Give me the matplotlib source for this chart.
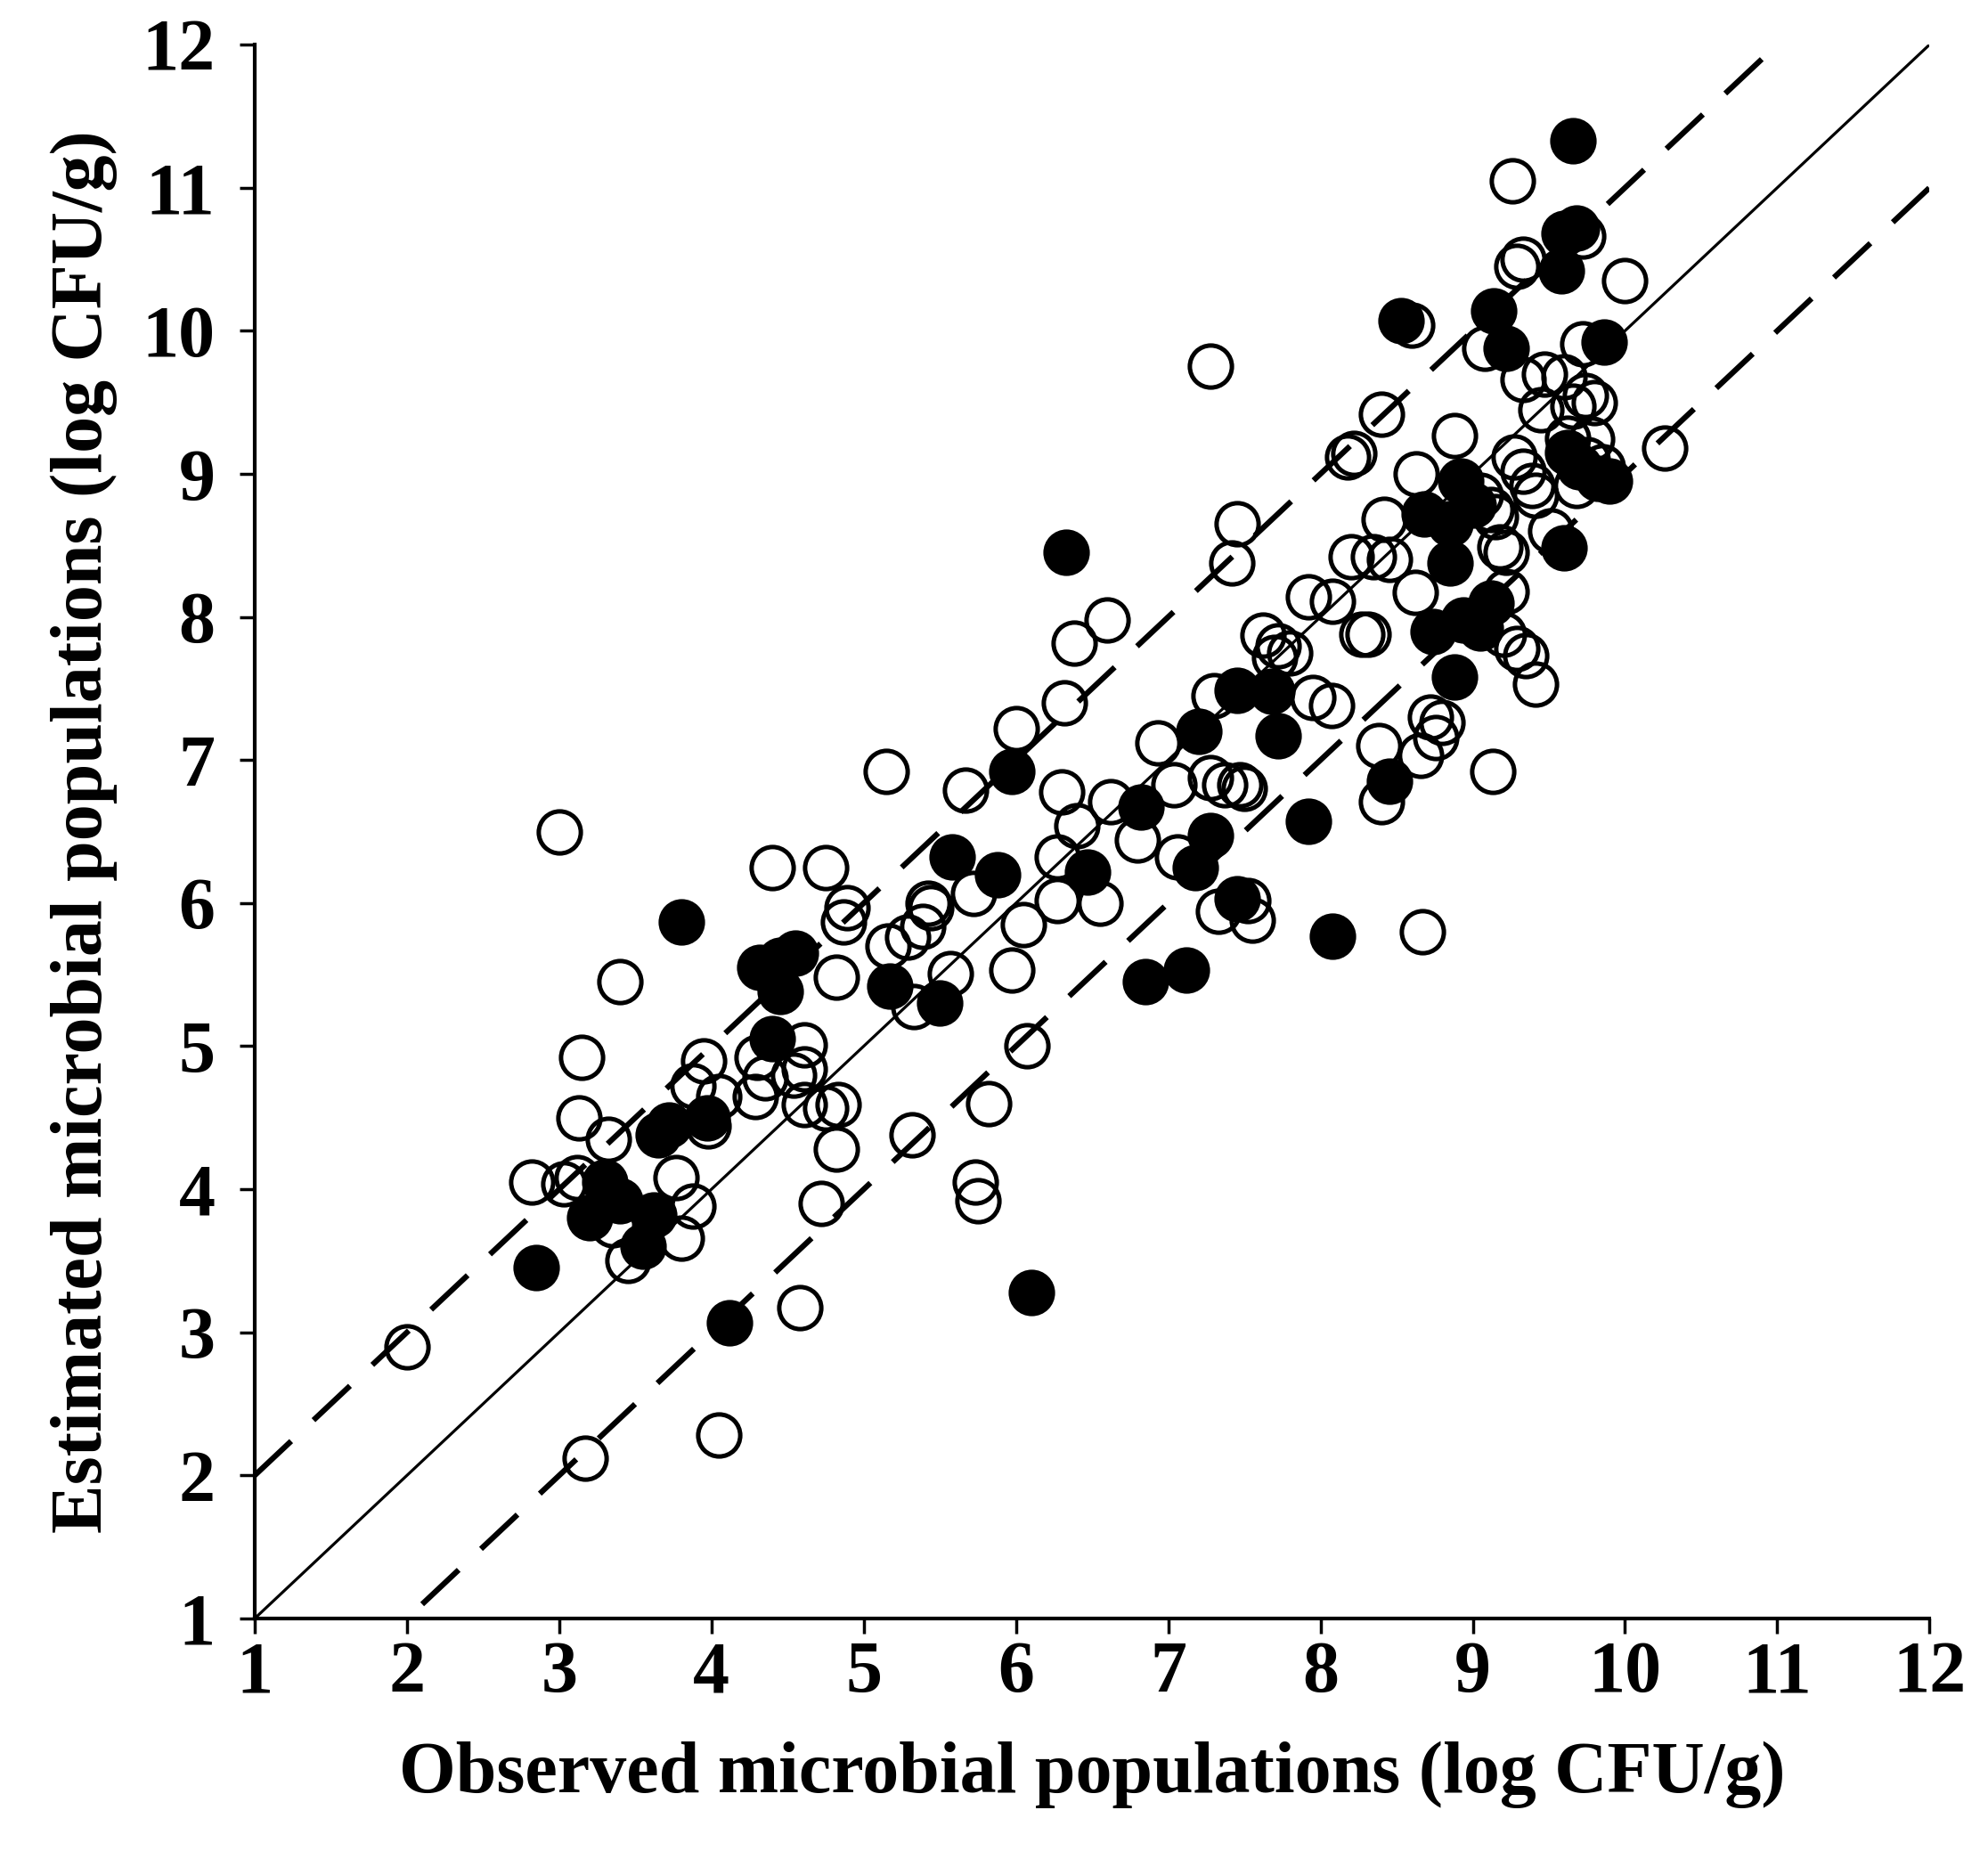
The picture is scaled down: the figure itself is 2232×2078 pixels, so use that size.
import numpy as np
import matplotlib
matplotlib.use("Agg")
import matplotlib.pyplot as plt

plt.rcParams['font.family'] = ['Liberation Serif', 'DejaVu Serif']
plt.rcParams['font.weight'] = 'bold'

# --- observed / estimated, open circles ---
open_obs = [2.00, 2.82, 3.03, 3.00, 3.17, 3.15, 3.13, 3.40, 4.05, 4.58, 4.72, 4.82, 5.32,
            3.45, 3.80, 3.88, 3.77, 3.98, 3.95, 3.88, 3.32, 3.12, 3.35, 4.05,
            4.40, 4.75, 4.82, 4.87, 4.89, 4.29, 4.30, 4.61, 4.61, 4.61, 4.75, 4.83, 4.54, 4.35,
            5.16, 5.29, 5.39, 5.44, 5.33, 5.57, 5.73, 5.75, 5.82, 6.07, 5.97, 6.05, 5.72, 5.42,
            5.15, 5.67, 6.00, 6.32, 6.38, 6.60, 6.30, 6.40, 6.27, 6.27, 6.55, 6.62, 6.80, 6.93,
            7.04, 7.28, 7.37, 7.47, 7.50, 7.06, 7.33, 7.55, 7.52, 7.28, 7.45, 7.42, 7.30,
            7.62, 7.72, 7.80, 7.70, 7.92, 8.08, 8.07, 7.95, 8.27, 8.31, 8.20, 8.35, 8.42, 8.40,
            8.18, 8.22, 8.62, 8.63, 8.60, 8.72, 8.80, 8.76, 8.66, 8.38, 8.40, 9.13, 8.67, 8.88,
            9.18, 9.22, 9.22, 9.20, 9.29, 9.35, 9.41, 9.27, 9.33, 9.39, 9.41, 9.51, 9.78, 9.80,
            9.33, 9.47, 9.60, 9.74, 9.66, 9.45, 9.72, 9.08, 9.26, 9.29, 9.33, 9.72, 10.00, 10.26,
            9.62, 9.75, 9.85, 9.68, 9.05, 9.15, 8.45, 9.12]
open_est = [2.90, 4.05, 4.04, 6.50, 2.12, 4.92, 4.50, 5.45, 2.28, 3.17, 3.90, 4.28, 4.38,
            3.50, 3.66, 3.88, 4.08, 4.44, 4.90, 4.72, 4.35, 4.08, 3.75, 4.65,
            6.25, 6.25, 5.48, 5.87, 5.97, 4.65, 4.92, 5.01, 4.84, 4.59, 4.57, 4.59, 4.80, 4.78,
            5.70, 5.76, 5.84, 5.97, 5.28, 5.51, 4.05, 3.92, 4.60, 5.00, 5.53, 5.85, 6.07, 6.00,
            6.92, 6.79, 7.22, 7.40, 7.82, 7.98, 6.78, 6.54, 6.32, 6.02, 6.00, 6.71, 6.44, 7.12,
            6.83, 6.88, 6.83, 6.83, 6.80, 6.32, 5.94, 5.88, 6.02, 9.75, 8.65, 8.38, 7.45,
            7.87, 7.80, 7.75, 7.72, 8.14, 8.11, 7.38, 7.44, 7.88, 7.88, 8.42, 8.42, 8.68, 9.42,
            9.12, 9.14, 8.17, 9.00, 10.04, 7.30, 7.26, 7.16, 7.03, 7.10, 6.71, 6.92, 5.80, 9.27,
            8.49, 8.45, 8.18, 7.88, 7.78, 7.73, 7.53, 9.12, 9.02, 8.92, 8.85, 8.60, 9.24, 9.50,
            9.66, 9.70, 9.68, 9.55, 9.47, 9.45, 9.91, 9.88, 11.05, 10.45, 10.50, 10.66, 10.35, 9.18,
            9.25, 9.10, 9.05, 8.92, 8.85, 8.70, 8.40, 8.75]

# --- observed / estimated, filled circles ---
fill_obs = [2.85, 3.20, 3.30, 3.40, 3.55, 3.62, 3.65, 3.72, 3.97, 3.80, 4.12,
            4.32, 4.45, 4.55, 4.45, 4.40, 5.17, 5.50, 5.58, 5.88, 5.97, 6.33, 6.47,
            6.82, 6.85, 7.12, 7.20, 7.28, 7.18, 7.45, 7.45, 7.68, 7.72, 7.92, 8.08,
            6.10, 8.45, 8.53, 9.14, 9.22, 9.60, 9.68, 9.58, 9.66, 9.86, 9.62, 9.70,
            9.82, 9.90, 9.60, 8.92, 9.00, 8.68, 8.85, 8.85, 8.74, 8.94, 9.12, 9.05, 8.88]
fill_est = [3.45, 3.80, 4.05, 3.92, 3.60, 3.82, 4.38, 4.45, 4.50, 5.87, 3.07,
            5.55, 5.60, 5.65, 5.38, 5.05, 5.42, 5.30, 6.32, 6.20, 6.92, 8.45, 6.22,
            6.67, 5.45, 5.53, 7.20, 6.47, 6.25, 6.03, 7.49, 7.48, 7.17, 6.57, 5.77,
            3.28, 6.85, 10.07, 10.14, 9.88, 10.68, 10.72, 10.42, 11.33, 9.92, 9.15, 9.05,
            8.97, 8.95, 8.48, 8.95, 8.78, 8.72, 8.65, 8.38, 7.90, 7.98, 8.10, 7.92, 7.58]

fig = plt.figure(figsize=(22.32, 20.78), dpi=100)
ax = fig.add_axes([0.1281, 0.1256, 0.8425, 0.8503])

# 1:1 line and +/- 1 log bands
ax.plot([1, 12], [1, 12], color='black', lw=2.3, zorder=1)
ax.plot([1, 11.3], [2, 12.3], color='black', lw=4.5, dashes=(9, 5.5), zorder=1)
ax.plot([2.1, 12], [1.1, 11], color='black', lw=4.5, dashes=(9, 5.5), zorder=1)

ax.plot(open_obs, open_est, 'o', ms=34, mfc='none', mec='black', mew=3.6, zorder=2)
ax.plot(fill_obs, fill_est, 'o', ms=34, mfc='black', mec='black', mew=3.6, zorder=3)

ax.set_xlim(1, 12)
ax.set_ylim(1, 12)
ax.set_xticks(range(1, 13))
ax.set_yticks(range(1, 13))
for s in ['top', 'right']:
    ax.spines[s].set_visible(False)
for s in ['left', 'bottom']:
    ax.spines[s].set_linewidth(3)
ax.tick_params(direction='out', length=12, width=2.5, labelsize=59)
ax.tick_params(axis='x', pad=6)
ax.tick_params(axis='y', pad=20)

ax.set_xlabel('Observed microbial populations (log CFU/g)', fontsize=59, fontweight='bold', labelpad=27)
ax.set_ylabel('Estimated microbial populations (log CFU/g)', fontsize=59, fontweight='bold', labelpad=20)

fig.savefig('out.png', dpi=100)
